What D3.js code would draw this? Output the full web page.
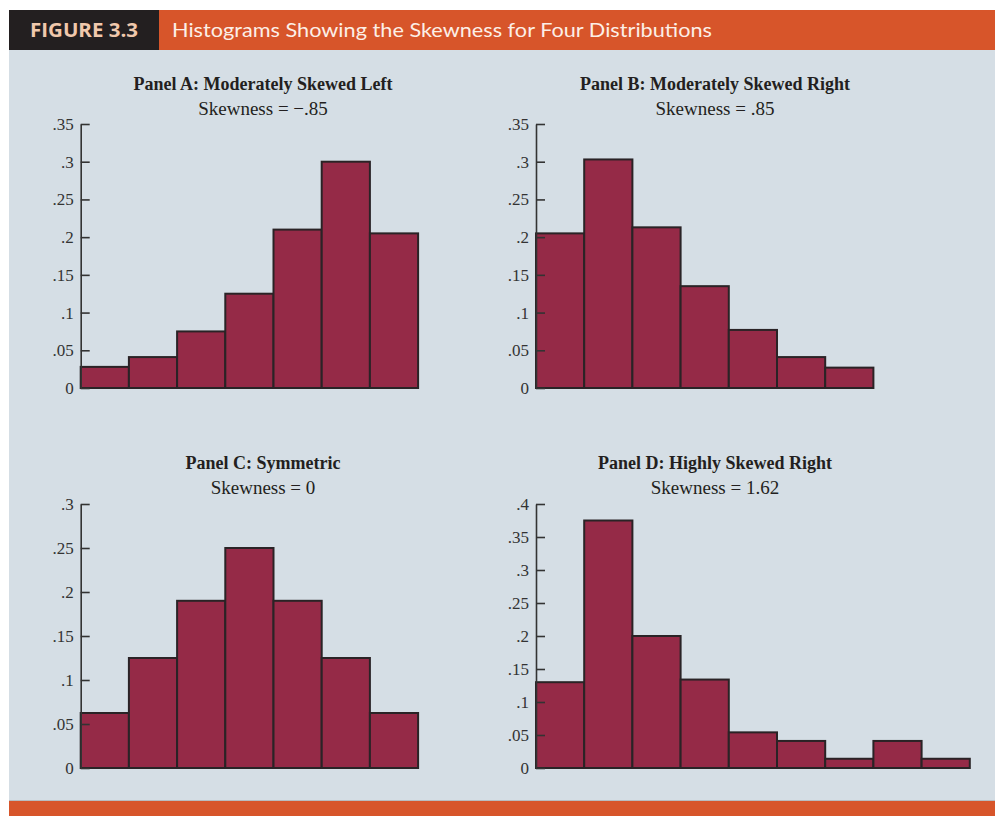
<!DOCTYPE html>
<html>
<head>
<meta charset="utf-8">
<script src="https://cdn.jsdelivr.net/npm/d3@7"></script>
<style>
  html, body { margin: 0; padding: 0; background: #ffffff; }
  svg { display: block; }
</style>
</head>
<body>
<svg id="chart" width="995" height="816"></svg>
<script>
// ---- Data ----
const figureLabel = "FIGURE 3.3";
const figureTitle = "Histograms Showing the Skewness for Four Distributions";
const panelTitles = ["Panel A: Moderately Skewed Left", "Panel B: Moderately Skewed Right", "Panel C: Symmetric", "Panel D: Highly Skewed Right"];
const skewLabels = ["Skewness = \u2212.85", "Skewness = .85", "Skewness = 0", "Skewness = 1.62"];
const valuesA = [0.028, 0.041, 0.075, 0.125, 0.21, 0.30, 0.205];
const valuesB = [0.205, 0.303, 0.213, 0.135, 0.077, 0.041, 0.027];
const valuesC = [0.0625, 0.125, 0.19, 0.25, 0.19, 0.125, 0.0625];
const valuesD = [0.13, 0.375, 0.2, 0.134, 0.054, 0.041, 0.014, 0.041, 0.014];
const ticksA = [0, 0.05, 0.1, 0.15, 0.2, 0.25, 0.3, 0.35];
const ticksB = [0, 0.05, 0.1, 0.15, 0.2, 0.25, 0.3, 0.35];
const ticksC = [0, 0.05, 0.1, 0.15, 0.2, 0.25, 0.3];
const ticksD = [0, 0.05, 0.1, 0.15, 0.2, 0.25, 0.3, 0.35, 0.4];

const panelValues = [valuesA, valuesB, valuesC, valuesD];
const panelTicks = [ticksA, ticksB, ticksC, ticksD];

// ---- Layout ----
const W = 995, H = 816;
const colors = {
  orange: "#d7552a", dark: "#231f20", bg: "#d5dee5",
  bar: "#952a47", barStroke: "#2a2326", text: "#231f20", axis: "#333333"
};
const barW = 48.2;
const plotH = 264;
const layout = [
  { ax: 80.7, top: 124, cx: 263, titleY: 90, subY: 115 },
  { ax: 536,  top: 124, cx: 715, titleY: 90, subY: 115 },
  { ax: 80.7, top: 504, cx: 263, titleY: 469, subY: 494 },
  { ax: 536,  top: 504, cx: 715, titleY: 469, subY: 494 }
];

const svg = d3.select("#chart");

// Background
svg.append("rect").attr("x", 0).attr("y", 0).attr("width", W).attr("height", H).attr("fill", "#ffffff");
svg.append("rect").attr("x", 9).attr("y", 50).attr("width", W - 9).attr("height", 751).attr("fill", colors.bg);
svg.append("line").attr("x1", 9).attr("x2", W).attr("y1", 800.5).attr("y2", 800.5).attr("stroke", "#b8bcbf").attr("stroke-width", 1);
svg.append("rect").attr("x", 9).attr("y", 801).attr("width", W - 9).attr("height", 15).attr("fill", colors.orange);

// Header
svg.append("rect").attr("x", 9).attr("y", 10).attr("width", W - 9).attr("height", 40).attr("fill", colors.orange);
svg.append("rect").attr("x", 9).attr("y", 10).attr("width", 150).attr("height", 40).attr("fill", colors.dark);
svg.append("text").attr("x", 30).attr("y", 37.3)
  .attr("font-family", "'Open Sans', 'DejaVu Sans', sans-serif").attr("font-weight", "bold")
  .attr("font-size", 19.5).attr("fill", "#f0c8ac")
  .attr("textLength", 108).attr("lengthAdjust", "spacingAndGlyphs")
  .text(figureLabel);
svg.append("text").attr("x", 172).attr("y", 37.3)
  .attr("font-family", "Lato, 'Open Sans', sans-serif")
  .attr("font-size", 20).attr("fill", "#fcefe7")
  .attr("textLength", 540).attr("lengthAdjust", "spacingAndGlyphs")
  .text(figureTitle);

const fmt = d => d === 0 ? "0" : String(+d.toFixed(2)).replace(/^0/, "");

panelValues.forEach((vals, i) => {
  const L = layout[i];
  const ticks = panelTicks[i];
  const x = d3.scaleBand().domain(d3.range(vals.length))
    .range([L.ax, L.ax + barW * vals.length]).padding(0);
  const y = d3.scaleLinear().domain([0, d3.max(ticks)]).range([L.top + plotH, L.top]);
  const g = svg.append("g");

  // titles
  g.append("text").attr("x", L.cx).attr("y", L.titleY).attr("text-anchor", "middle")
    .attr("font-family", "'Liberation Serif', 'Times New Roman', serif").attr("font-weight", "bold")
    .attr("font-size", 18).attr("fill", colors.text).text(panelTitles[i]);
  g.append("text").attr("x", L.cx).attr("y", L.subY).attr("text-anchor", "middle")
    .attr("font-family", "'Liberation Serif', 'Times New Roman', serif")
    .attr("font-size", 19).attr("fill", colors.text).text(skewLabels[i]);

  // bars
  g.selectAll("rect.bar").data(vals).join("rect").attr("class", "bar")
    .attr("x", (d, j) => x(j)).attr("width", x.bandwidth())
    .attr("y", d => y(d)).attr("height", d => y(0) - y(d))
    .attr("fill", colors.bar).attr("stroke", colors.barStroke).attr("stroke-width", 2);

  // axis
  const axis = d3.axisLeft(y).tickValues(ticks).tickFormat(fmt)
    .tickSizeInner(-9).tickSizeOuter(0).tickPadding(7);
  const ag = g.append("g").attr("transform", `translate(${L.ax},0)`).call(axis);
  ag.select(".domain").attr("stroke", colors.axis).attr("stroke-width", 1.6);
  ag.selectAll(".tick line").attr("stroke", colors.axis).attr("stroke-width", 1.6);
  ag.selectAll(".tick text")
    .attr("font-family", "'Liberation Serif', 'Times New Roman', serif")
    .attr("font-size", 17).attr("fill", colors.axis);
});
</script>
</body>
</html>
